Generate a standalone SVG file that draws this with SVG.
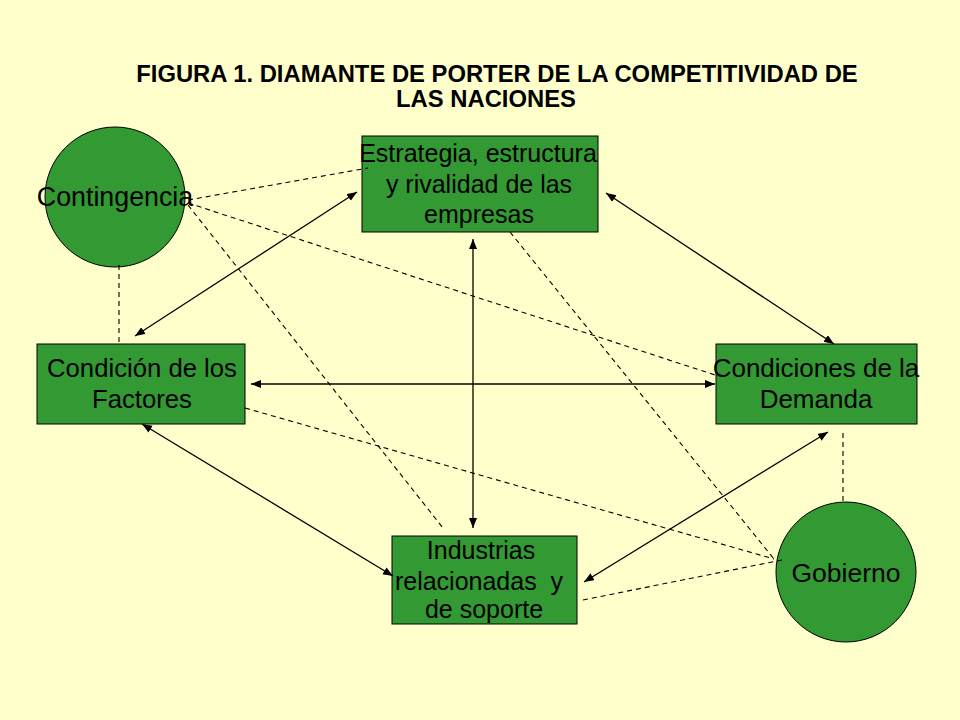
<svg xmlns="http://www.w3.org/2000/svg" width="960" height="720" viewBox="0 0 960 720">
  <style>
    .node { fill: #339933; stroke: #000; stroke-width: 1; }
    .lbl { font-family: "Liberation Sans", Arial, sans-serif; fill: #000; text-anchor: middle; }
    .title { font-family: "Liberation Sans", Arial, sans-serif; font-weight: bold; font-size: 23.8px; fill: #000; text-anchor: middle; }
    .solid { stroke: #000; stroke-width: 1.3; fill: none; marker-start: url(#ah); marker-end: url(#ah); }
    .dash { stroke: #000; stroke-width: 1.1; fill: none; stroke-dasharray: 5 4; }
  </style>
  <defs>
    <marker id="ah" markerUnits="userSpaceOnUse" markerWidth="11" markerHeight="9" refX="10" refY="4" orient="auto-start-reverse" viewBox="0 0 11 9">
      <path d="M0,0 L10,4 L0,8 z" fill="#000"/>
    </marker>
  </defs>
  <rect width="960" height="720" fill="#FFFFCC"/>

  <g id="title">
    <text class="title" x="497" y="82">FIGURA 1. DIAMANTE DE PORTER DE LA COMPETITIVIDAD DE</text>
    <text class="title" x="486" y="107">LAS NACIONES</text>
  </g>

  <g id="contingencia">
    <circle class="node" cx="115" cy="197" r="70"/>
    <text class="lbl" x="115" y="206" font-size="26.8">Contingencia</text>
  </g>

  <g id="estrategia">
    <rect class="node" x="362" y="136" width="236" height="96"/>
    <text class="lbl" x="478" y="162" font-size="25">Estrategia, estructura</text>
    <text class="lbl" x="479" y="192.5" font-size="25">y rivalidad de las</text>
    <text class="lbl" x="479" y="223" font-size="25">empresas</text>
  </g>

  <g id="factores">
    <rect class="node" x="37" y="344" width="208" height="80"/>
    <text class="lbl" x="142" y="377" font-size="25.7">Condición de los</text>
    <text class="lbl" x="142" y="408" font-size="25.7">Factores</text>
  </g>

  <g id="demanda">
    <rect class="node" x="716" y="344" width="201" height="80"/>
    <text class="lbl" x="816" y="377" font-size="26">Condiciones de la</text>
    <text class="lbl" x="816" y="408" font-size="26">Demanda</text>
  </g>

  <g id="industrias">
    <rect class="node" x="392" y="536" width="185" height="88"/>
    <text class="lbl" x="481" y="559" font-size="25">Industrias</text>
    <text class="lbl" x="479" y="590" xml:space="preserve" font-size="25">relacionadas  y</text>
    <text class="lbl" x="484" y="618" font-size="25">de soporte</text>
  </g>

  <g id="gobierno">
    <circle class="node" cx="846" cy="572" r="70"/>
    <text class="lbl" x="846" y="582" font-size="26.5">Gobierno</text>
  </g>

  <g id="connectors">
    <line class="solid" x1="135" y1="336" x2="357" y2="192"/>
    <line class="solid" x1="606" y1="193" x2="834" y2="344"/>
    <line class="solid" x1="251" y1="384" x2="715" y2="384"/>
    <line class="solid" x1="473" y1="239" x2="473" y2="528"/>
    <line class="solid" x1="142" y1="424" x2="393" y2="576"/>
    <line class="solid" x1="584" y1="582" x2="828" y2="432"/>

    <line class="dash" x1="119" y1="265" x2="119" y2="344"/>
    <line class="dash" x1="188" y1="200" x2="368" y2="168"/>
    <line class="dash" x1="188" y1="203" x2="715" y2="375"/>
    <line class="dash" x1="188" y1="205" x2="443" y2="528"/>
    <line class="dash" x1="510" y1="232" x2="774" y2="559"/>
    <line class="dash" x1="245" y1="408" x2="774" y2="559"/>
    <line class="dash" x1="782" y1="560" x2="583" y2="600"/>
    <line class="dash" x1="843" y1="433" x2="843" y2="504"/>
  </g>
</svg>
